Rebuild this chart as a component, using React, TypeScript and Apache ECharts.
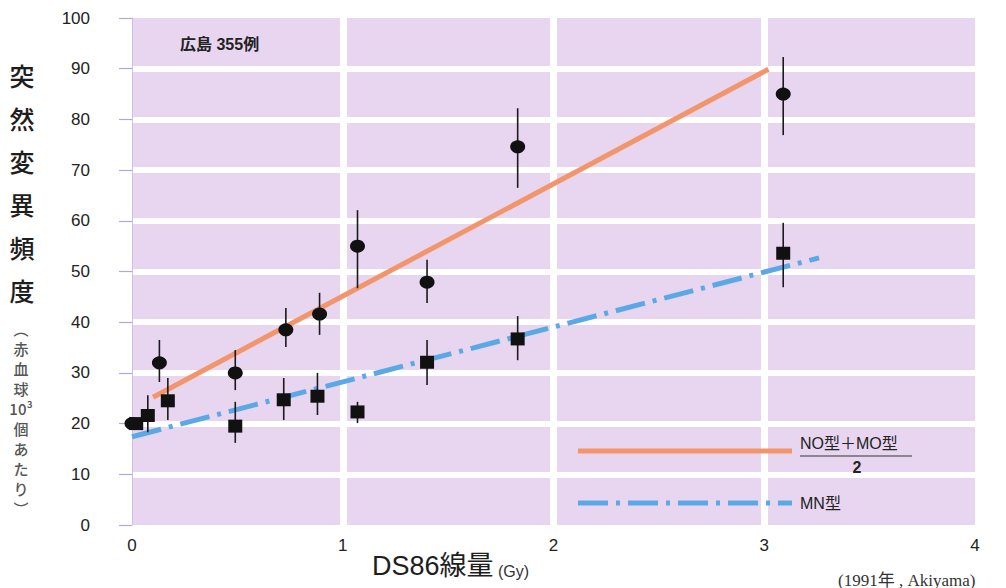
import React, { useEffect, useRef } from "react";
import * as echarts from "echarts";

// NO型＋MO型 / 2 (circles)
const circleX = [0, 0.13, 0.49, 0.73, 0.89, 1.07, 1.4, 1.83, 3.09];
const circleY = [20, 32, 30, 38.5, 41.6, 55, 47.9, 74.6, 85];
const circleLo = [20, 28.2, 26.6, 35.1, 37.5, 46.7, 43.8, 66.5, 76.9];
const circleHi = [20, 36.5, 34.5, 42.8, 45.8, 62.1, 52.3, 82.2, 92.3];

// MN型 (squares)
const squareX = [0.02, 0.075, 0.17, 0.49, 0.72, 0.88, 1.07, 1.4, 1.83, 3.09];
const squareY = [20, 21.6, 24.5, 19.5, 24.7, 25.4, 22.3, 32.1, 36.7, 53.6];
const squareLo = [20, 18.3, 20.7, 16.2, 20.7, 21.7, 20.1, 27.6, 32.5, 46.9];
const squareHi = [20, 25.6, 29, 24.3, 29, 30, 24.3, 36.5, 41.2, 59.6];

// regression lines
const orangeX = [0.1, 3.02];
const orangeY = [25.2, 89.9];
const blueX = [0, 3.26];
const blueY = [17.4, 52.7];

const yTitle = ["突", "然", "変", "異", "頻", "度"];
const ySub = ["︵", "赤", "血", "球", "10³", "個", "あ", "た", "り", "︶"];

const JP = "'Liberation Sans', 'Noto Sans CJK JP', sans-serif";

export default function App() {
  const ref = useRef<HTMLDivElement>(null);
  useEffect(() => {
    document.body.style.margin = "0";
    const chart = echarts.init(ref.current!, null, { renderer: "svg" });
    const errRender = (params: any, api: any) => {
      const x = api.value(0);
      const p1 = api.coord([x, api.value(1)]);
      const p2 = api.coord([x, api.value(2)]);
      return {
        type: "line",
        shape: { x1: p1[0], y1: p1[1], x2: p2[0], y2: p2[1] },
        style: { stroke: "#1a1a1a", lineWidth: 1.6 },
      };
    };
    chart.setOption({
      animation: false,
      backgroundColor: "#ffffff",
      grid: {
        left: 132,
        right: 31,
        top: 18,
        bottom: 63,
        show: true,
        backgroundColor: "#e8d6f0",
        borderWidth: 0,
      },
      xAxis: {
        type: "value",
        min: 0,
        max: 4,
        interval: 1,
        axisLine: { show: false },
        axisTick: { show: false },
        axisLabel: { fontSize: 17, color: "#222", margin: 12, fontFamily: JP },
        splitLine: {
          show: true,
          showMinLine: false,
          showMaxLine: false,
          lineStyle: { color: "#ffffff", width: 7 },
        },
      },
      yAxis: {
        type: "value",
        min: 0,
        max: 100,
        interval: 10,
        offset: 24,
        axisLine: { show: true, lineStyle: { color: "#cfc0e2", width: 1 } },
        axisTick: { show: true, length: 13, lineStyle: { color: "#b7a5d6", width: 1.2 } },
        axisLabel: { fontSize: 17, color: "#222", margin: 18, fontFamily: JP },
        splitLine: {
          show: true,
          showMinLine: false,
          showMaxLine: false,
          lineStyle: { color: "#ffffff", width: 6 },
        },
      },
      series: [
        {
          type: "line",
          data: orangeX.map((x, i) => [x, orangeY[i]]),
          symbol: "none",
          lineStyle: { color: "#f3956b", width: 5 },
          z: 2,
        },
        {
          type: "line",
          data: blueX.map((x, i) => [x, blueY[i]]),
          symbol: "none",
          lineStyle: { color: "#5aa9e6", width: 5, type: [30, 8, 4, 8] },
          z: 2,
        },
        {
          type: "custom",
          renderItem: errRender,
          data: circleX.map((x, i) => [x, circleLo[i], circleHi[i]]),
          encode: { x: 0, y: [1, 2] },
          z: 3,
        },
        {
          type: "custom",
          renderItem: errRender,
          data: squareX.map((x, i) => [x, squareLo[i], squareHi[i]]),
          encode: { x: 0, y: [1, 2] },
          z: 3,
        },
        {
          type: "scatter",
          data: circleX.map((x, i) => [x, circleY[i]]),
          symbol: "circle",
          symbolSize: [15, 13],
          itemStyle: { color: "#111", opacity: 1 },
          z: 4,
        },
        {
          type: "scatter",
          data: squareX.map((x, i) => [x, squareY[i]]),
          symbol: "rect",
          symbolSize: [14, 13],
          itemStyle: { color: "#111", opacity: 1 },
          z: 4,
        },
      ],
      graphic: [
        {
          type: "text",
          left: 180,
          top: 36,
          z: 100,
          style: {
            text: "広島 355例",
            font: "bold 16px 'Liberation Sans', 'Noto Sans CJK JP', sans-serif",
            fill: "#222",
          },
        },
        {
          type: "text",
          x: 22,
          y: 53,
          z: 100,
          style: {
            text: yTitle.join("\n"),
            font: "500 25px 'Noto Sans CJK JP', sans-serif",
            lineHeight: 43,
            align: "center",
            fill: "#1e1e1e",
          },
        },
        {
          type: "text",
          x: 21,
          y: 318,
          z: 100,
          style: {
            text: ySub.join("\n"),
            font: "500 15px 'Noto Sans CJK JP', sans-serif",
            lineHeight: 20,
            align: "center",
            fill: "#555",
          },
        },
        {
          type: "text",
          x: 372,
          y: 566,
          z: 100,
          style: {
            text: "DS86線量",
            font: "27px 'Liberation Sans', 'Noto Sans CJK JP', sans-serif",
            verticalAlign: "middle",
            fill: "#1e1e1e",
          },
        },
        {
          type: "text",
          x: 498,
          y: 571,
          z: 100,
          style: {
            text: "(Gy)",
            font: "16px 'Liberation Sans', sans-serif",
            verticalAlign: "middle",
            fill: "#333",
          },
        },
        {
          type: "line",
          z: 100,
          shape: { x1: 578, y1: 451, x2: 792, y2: 451 },
          style: { stroke: "#f3956b", lineWidth: 5 },
        },
        {
          type: "line",
          z: 100,
          shape: { x1: 578, y1: 503, x2: 792, y2: 503 },
          style: { stroke: "#5aa9e6", lineWidth: 5, lineDash: [30, 8, 4, 8] },
        },
        {
          type: "text",
          x: 800,
          y: 443,
          z: 100,
          style: {
            text: "NO型＋MO型",
            font: "16px 'Liberation Sans', 'Noto Sans CJK JP', sans-serif",
            verticalAlign: "middle",
            fill: "#222",
          },
        },
        {
          type: "line",
          z: 100,
          shape: { x1: 800, y1: 456, x2: 912, y2: 456 },
          style: { stroke: "#333", lineWidth: 1.2 },
        },
        {
          type: "text",
          x: 857,
          y: 467,
          z: 100,
          style: {
            text: "2",
            fontSize: 16,
            fontWeight: "bold",
            fontFamily: "'Liberation Sans', sans-serif",
            align: "center",
            verticalAlign: "middle",
            fill: "#222",
          },
        },
        {
          type: "text",
          x: 800,
          y: 503,
          z: 100,
          style: {
            text: "MN型",
            font: "16px 'Liberation Sans', 'Noto Sans CJK JP', sans-serif",
            verticalAlign: "middle",
            fill: "#222",
          },
        },
        {
          type: "text",
          x: 838,
          y: 580,
          z: 100,
          style: {
            text: "(1991年 , Akiyama)",
            font: "17px 'Liberation Serif', 'Noto Sans CJK JP', serif",
            verticalAlign: "middle",
            fill: "#333",
          },
        },
      ],
    });
    return () => chart.dispose();
  }, []);
  return (
    <div
      ref={ref}
      style={{ position: "fixed", left: 0, top: 0, width: 1006, height: 588 }}
    />
  );
}
